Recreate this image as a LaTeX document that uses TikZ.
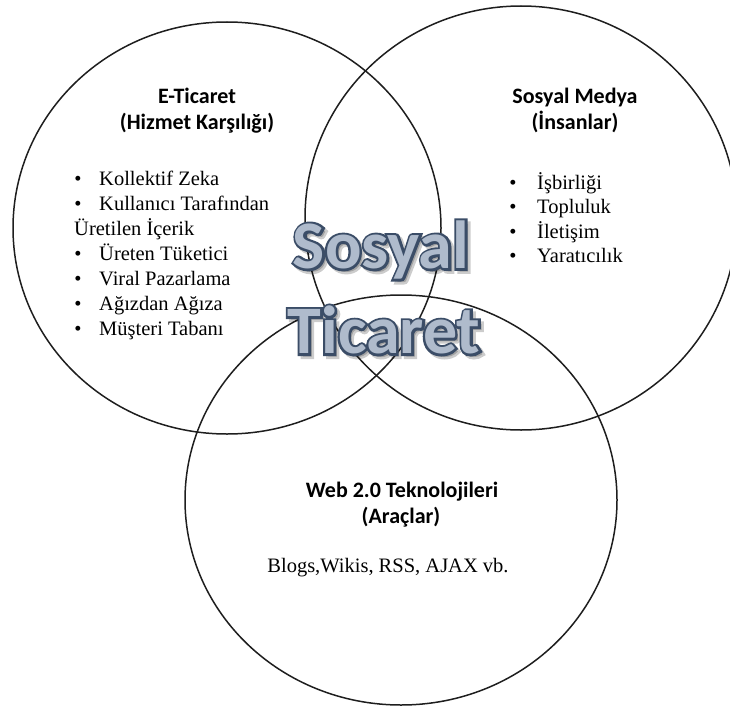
\documentclass[tikz,border=0pt]{standalone}
\usepackage{fontspec}
\setmainfont{Liberation Serif}
\newfontfamily\headfont{Carlito}
\newfontfamily\edgefont{Carlito}[BoldFeatures={FakeBold=7}]
\definecolor{ringcol}{HTML}{1E1E1E}
\definecolor{wordedge}{HTML}{3B4D67}
\definecolor{wordfill}{HTML}{AFBBCC}
\newcommand{\bigwordfont}{\headfont\bfseries\fontsize{68}{70}\selectfont}
\newcommand{\bigedgefont}{\edgefont\bfseries\fontsize{68}{70}\selectfont}
\begin{document}
\begin{tikzpicture}[x=1pt, y=-1pt,
  ring/.style={draw=ringcol, line width=1.5pt},
  head/.style={font=\headfont\bfseries\fontsize{22}{26}\selectfont, inner sep=0pt, anchor=base, align=center},
  itemtxt/.style={font=\fontsize{20.5}{25}\selectfont, inner sep=0pt, anchor=base west},
  bul/.style={font=\fontsize{20.5}{25}\selectfont, inner sep=0pt, anchor=base},
  bigw/.style={font=\bigwordfont, inner sep=0pt},
  bige/.style={font=\bigedgefont, inner sep=0pt}
]
\useasboundingbox (0,0) rectangle (730,709);
% circles
\draw[ring] (227,228) ellipse [x radius=214pt, y radius=206pt];
\draw[ring] (521,218) ellipse [x radius=216pt, y radius=212pt];
\draw[ring] (401,500) ellipse [x radius=216pt, y radius=205pt];

% left circle texts
\node[head] (h1a) at (197,103) {E-Ticaret};
\node[head] (h1b) at (197,129) {(Hizmet Karşılığı)};
\node[bul] (b1) at (78,185) {•};
\node[itemtxt] (t1) at (99,185) {Kollektif Zeka};
\node[bul] (b2) at (78,210) {•};
\node[itemtxt] (t2) at (99,210) {Kullanıcı Tarafından};
\node[itemtxt] (t2b) at (74,235) {Üretilen İçerik};
\node[bul] (b3) at (78,260) {•};
\node[itemtxt] (t3) at (99,260) {Üreten Tüketici};
\node[bul] (b4) at (78,285) {•};
\node[itemtxt] (t4) at (99,285) {Viral Pazarlama};
\node[bul] (b5) at (78,310) {•};
\node[itemtxt] (t5) at (99,310) {Ağızdan Ağıza};
\node[bul] (b6) at (78,335) {•};
\node[itemtxt] (t6) at (99,335) {Müşteri Tabanı};

% right circle texts
\node[head] (h2a) at (575,103) {Sosyal Medya};
\node[head] (h2b) at (575,129) {(İnsanlar)};
\node[bul] (r1) at (513,189) {•};
\node[itemtxt] (s1) at (537,189) {İşbirliği};
\node[bul] (r2) at (513,213.5) {•};
\node[itemtxt] (s2) at (537,213.5) {Topluluk};
\node[bul] (r3) at (513,238) {•};
\node[itemtxt] (s3) at (537,238) {İletişim};
\node[bul] (r4) at (513,262.5) {•};
\node[itemtxt] (s4) at (537,262.5) {Yaratıcılık};

% bottom circle texts
\node[head] (h3a) at (402,497) {Web 2.0 Teknolojileri};
\node[head] (h3b) at (401,523) {(Araçlar)};
\node[itemtxt, anchor=base] (w1) at (388,572) {Blogs,Wikis, RSS, AJAX vb.};

% central word art
\coordinate (cS) at (381,250);
\coordinate (cT) at (384,330);
\node[bige, text=black, opacity=0.2] (shS) at ([shift={(3,3)}]cS) {Sosyal};
\node[bige, text=black, opacity=0.2] (shT) at ([shift={(3,3)}]cT) {Ticaret};
\node[bige, text=wordedge] (edS) at (cS) {Sosyal};
\node[bige, text=wordedge] (edT) at (cT) {Ticaret};
\node[bigw, text=wordfill] (wS) at (cS) {Sosyal};
\node[bigw, text=wordfill] (wT) at (cT) {Ticaret};
\end{tikzpicture}
\end{document}
